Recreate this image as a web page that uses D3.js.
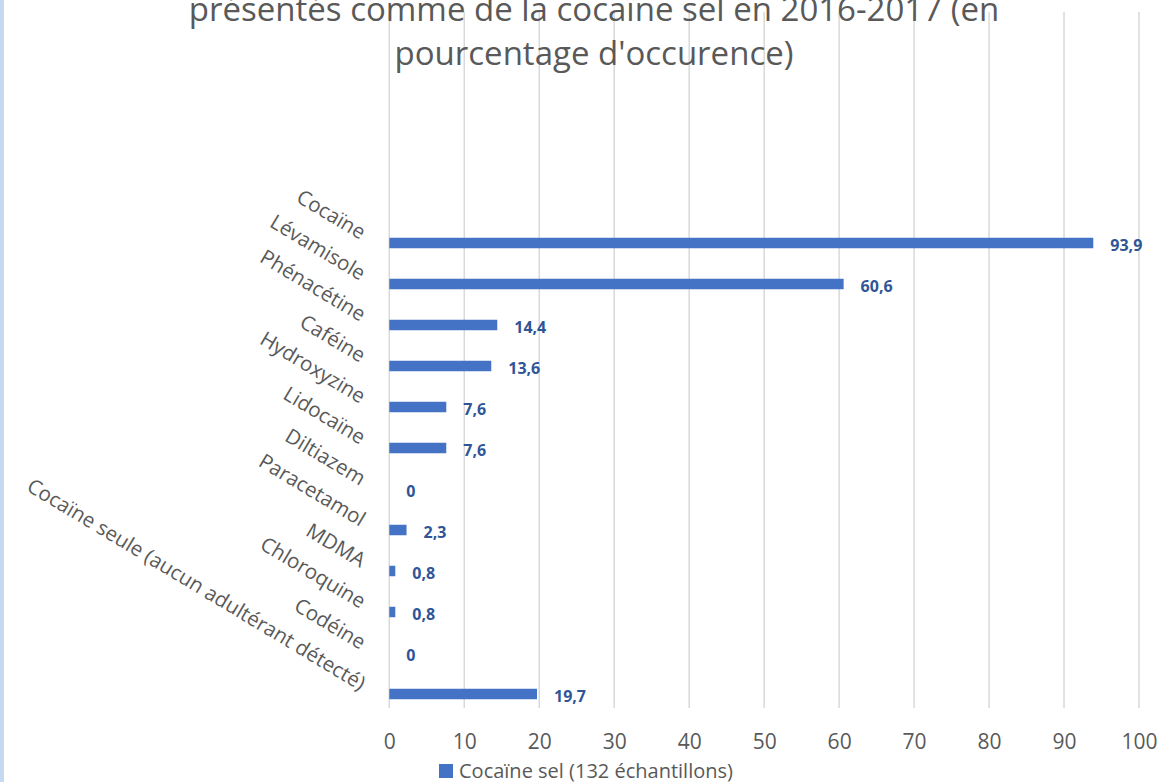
<!DOCTYPE html>
<html>
<head>
<meta charset="utf-8">
<script src="https://cdn.jsdelivr.net/npm/d3@7"></script>
<style>
  body { margin: 0; background: #fff; }
  svg { display: block; font-family: "Open Sans", sans-serif; }
</style>
</head>
<body>
<div id="chart"></div>
<script>
// data
var categories = ["Cocaïne", "Lévamisole", "Phénacétine", "Caféine", "Hydroxyzine", "Lidocaïne",
  "Diltiazem", "Paracetamol", "MDMA", "Chloroquine", "Codéine", "Cocaïne seule (aucun adultérant détecté)"];
var values = [93.9, 60.6, 14.4, 13.6, 7.6, 7.6, 0, 2.3, 0.8, 0.8, 0, 19.7];
var xTicks = [0, 10, 20, 30, 40, 50, 60, 70, 80, 90, 100];
var seriesName = "Cocaïne sel (132 échantillons)";
var titleLines = ["présentés comme de la cocaïne sel en 2016-2017 (en", "pourcentage d'occurence)"];

var W = 1162, H = 782;
var gridTop = 12, gridBottom = 708;

var svg = d3.select("#chart")
  .append("svg")
    .attr("width", W)
    .attr("height", H);

svg.append("rect").attr("width", W).attr("height", H).attr("fill", "#fff");
// light blue edge on the left
svg.append("rect").attr("x", 0).attr("y", 0).attr("width", 4).attr("height", H).attr("fill", "#c6d9f0");

var x = d3.scaleLinear()
  .domain([0, 100])
  .range([389.3, 1139]);

var y = d3.scaleBand()
  .domain(categories)
  .range([222.5, 714.5])
  .paddingInner(0.744)
  .paddingOuter(0.372);

// gridlines
svg.append("g")
  .selectAll("line")
  .data(xTicks)
  .enter()
  .append("line")
    .attr("x1", d => x(d))
    .attr("x2", d => x(d))
    .attr("y1", gridTop)
    .attr("y2", gridBottom)
    .attr("stroke", "#d9d9d9")
    .attr("stroke-width", 1.5);

// title (first part is above the visible frame)
svg.append("g")
  .selectAll("text")
  .data(titleLines)
  .enter()
  .append("text")
    .attr("x", 594)
    .attr("y", (d, i) => 21 + i * 44)
    .attr("text-anchor", "middle")
    .attr("fill", "#595959")
    .style("font-size", "33px")
    .text(d => d);

// bars
svg.append("g")
  .selectAll("rect")
  .data(values)
  .enter()
  .append("rect")
    .attr("x", x(0))
    .attr("y", (d, i) => y(categories[i]))
    .attr("width", d => x(d) - x(0))
    .attr("height", y.bandwidth())
    .attr("fill", "#4472c4");

// data labels
svg.append("g")
  .selectAll("text")
  .data(values)
  .enter()
  .append("text")
    .attr("x", d => x(d) + 17)
    .attr("y", (d, i) => y(categories[i]) + y.bandwidth() / 2 + 2)
    .attr("dominant-baseline", "central")
    .attr("fill", "#2f5597")
    .style("font-size", "16px")
    .style("font-weight", "bold")
    .text(d => String(d).replace(".", ","));

// category labels, rotated
svg.append("g")
  .selectAll("text")
  .data(categories)
  .enter()
  .append("text")
    .attr("text-anchor", "end")
    .attr("transform", d => "translate(360," + (y(d) + y.bandwidth() / 2 - 3) + ")rotate(31)")
    .attr("fill", "#595959")
    .style("font-size", "20.5px")
    .text(d => d);

// x axis tick labels
var xAxis = svg.append("g")
  .attr("transform", "translate(0,741)")
  .call(d3.axisBottom(x).tickValues(xTicks).tickSize(0).tickPadding(0));
xAxis.select(".domain").remove();
xAxis.selectAll("text")
  .attr("dy", null)
  .attr("y", 0)
  .attr("dominant-baseline", "central")
  .attr("fill", "#595959")
  .style("font-family", "Open Sans, sans-serif")
  .style("font-size", "21px");

// legend
var legend = svg.append("g").attr("transform", "translate(439,764)");
legend.append("rect")
  .attr("width", 14)
  .attr("height", 14)
  .attr("fill", "#4472c4");
legend.append("text")
  .attr("x", 20)
  .attr("y", 6)
  .attr("dominant-baseline", "central")
  .attr("fill", "#595959")
  .style("font-size", "20px")
  .text(seriesName);
</script>
</body>
</html>
